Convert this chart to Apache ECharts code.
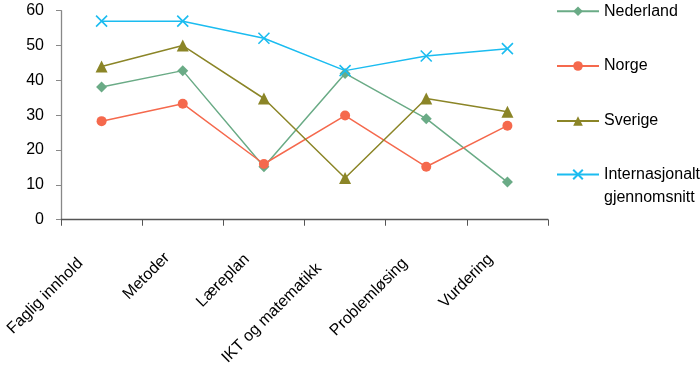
<!DOCTYPE html>
<html>
<head>
<meta charset="utf-8">
<script src="https://cdn.jsdelivr.net/npm/echarts@6/dist/echarts.min.js"></script>
<style>
html,body{margin:0;padding:0;background:#fff;}
#chart{width:700px;height:368px;}
</style>
</head>
<body>
<div id="chart"></div>
<script>
var categories = ['Faglig innhold', 'Metoder', 'Læreplan', 'IKT og matematikk', 'Problemløsing', 'Vurdering'];
var nederland = [38.1, 42.8, 15.2, 42.0, 29.0, 10.8];
var norge = [28.3, 33.3, 16.0, 29.9, 15.2, 27.0];
var sverige = [44.0, 50.0, 34.8, 12.0, 34.8, 31.0];
var internasjonalt = [57.0, 57.0, 52.1, 42.8, 47.0, 49.1];
var yTicks = [0, 10, 20, 30, 40, 50, 60];

var FONT = '"Liberation Sans", Arial, sans-serif';
var colors = {
  ned: '#6aab86',
  nor: '#f5694d',
  sve: '#8b8527',
  intl: '#1bbcf0'
};

// per-label shift along the rotated text direction, derived from text width
var cv = document.createElement('canvas').getContext('2d');
cv.font = '16px ' + FONT;
var rich = {};
categories.forEach(function (c, i) {
  var w = cv.measureText(c).width;
  rich['l' + i] = {
    fontFamily: FONT, fontSize: 16, color: '#000',
    padding: [0, Math.round(10 + 0.2 * w), 0, 0]
  };
});

var crossPath = 'path://M0,0L10,10M10,0L0,10';

function mkSeries(name, data, color, symbol, size) {
  return {
    name: name, type: 'line', data: data,
    symbol: symbol, symbolSize: size,
    showSymbol: true,
    lineStyle: { color: color, width: 1.5 },
    itemStyle: { color: symbol === crossPath ? 'none' : color, borderColor: color, borderWidth: symbol === crossPath ? 1.6 : 0 },
    emphasis: { disabled: true },
    animation: false
  };
}

function mkLegend(name, top) {
  return {
    data: [name],
    orient: 'vertical',
    left: 556,
    top: top,
    padding: 0,
    itemWidth: 42,
    itemHeight: 12,
    itemGap: 4,
    selectedMode: false,
    textStyle: { fontFamily: FONT, fontSize: 16, color: '#000' }
  };
}

var intlLegend = mkLegend('Internasjonalt gjennomsnitt', 140);
intlLegend.formatter = function () { return '\u00a0\nInternasjonalt\ngjennomsnitt'; };
intlLegend.textStyle = { fontFamily: FONT, fontSize: 16, color: '#000', lineHeight: 23 };

var chart = echarts.init(document.getElementById('chart'), null, { renderer: 'canvas' });
chart.setOption({
  animation: false,
  grid: { left: 61, right: 152, top: 10.7, bottom: 148, containLabel: false },
  legend: [
    mkLegend('Nederland', 3.3),
    mkLegend('Norge', 58),
    mkLegend('Sverige', 113),
    intlLegend
  ],
  xAxis: {
    type: 'category',
    data: categories,
    boundaryGap: true,
    axisLine: { lineStyle: { color: '#555', width: 1.3 } },
    axisTick: { show: true, length: 6, lineStyle: { color: '#555' } },
    axisLabel: {
      rotate: 45, margin: 20, interval: 0,
      fontFamily: FONT, fontSize: 16, color: '#000',
      formatter: function (v, i) { return '{l' + i + '|' + v + '}'; },
      rich: rich
    },
    splitLine: { show: false }
  },
  yAxis: {
    type: 'value',
    min: yTicks[0], max: yTicks[yTicks.length - 1], interval: 10,
    axisLine: { show: true, lineStyle: { color: '#888', width: 1.3 } },
    axisTick: { show: true, length: 5, lineStyle: { color: '#888' } },
    axisLabel: { fontFamily: FONT, fontSize: 16, color: '#000', margin: 17 },
    splitLine: { show: false }
  },
  series: [
    mkSeries('Nederland', nederland, colors.ned, 'diamond', 11),
    mkSeries('Norge', norge, colors.nor, 'circle', 10),
    mkSeries('Sverige', sverige, colors.sve, 'triangle', 12),
    mkSeries('Internasjonalt gjennomsnitt', internasjonalt, colors.intl, crossPath, 11)
  ]
});
</script>
</body>
</html>
